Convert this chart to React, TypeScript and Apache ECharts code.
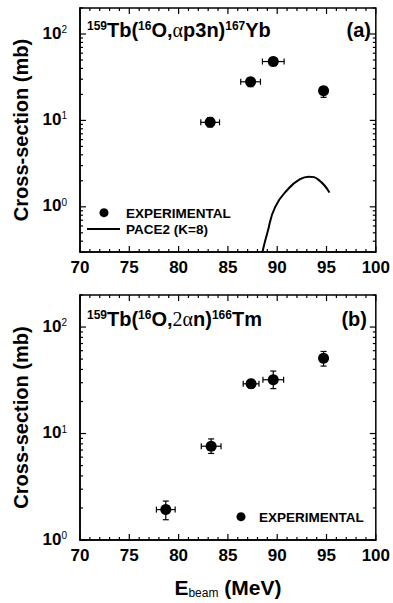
import React, { useEffect, useRef } from 'react';
import * as echarts from 'echarts';

// ---- data: panel (a) 159Tb(16O,αp3n)167Yb ----
const aEnergy = [83.2, 87.3, 89.6, 94.7];
const aSigma = [9.5, 28, 48, 22];
const aEnergyErr = [0.95, 1.0, 1.1, 0.4];
const aSigmaLow = [8.4, 24.6, 42.9, 18.5];
const aSigmaHigh = [10.8, 31, 52.6, 24.6];
const paceEnergy = [88.5, 89.0, 89.8, 91.2, 92.2, 93.2, 94.2, 95.3];
const paceSigma = [0.3, 0.5, 1.0, 1.65, 2.05, 2.23, 2.05, 1.46];

// ---- data: panel (b) 159Tb(16O,2αn)166Tm ----
const bEnergy = [78.7, 83.3, 87.35, 89.6, 94.7];
const bSigma = [1.93, 7.6, 29.3, 32, 51];
const bEnergyErr = [0.95, 1.0, 0.8, 1.05, 0.3];
const bSigmaLow = [1.55, 6.5, 26.8, 26.4, 43];
const bSigmaHigh = [2.32, 8.9, 32.2, 38.6, 59];

// ---- axes / ticks ----
const xMin = 70;
const xMax = 100;
const xInterval = 5;
const xMajorTicks = [70, 75, 80, 85, 90, 95, 100];
const xMinorTicks = [71, 72, 73, 74, 76, 77, 78, 79, 81, 82, 83, 84, 86, 87, 88, 89, 91, 92, 93, 94, 96, 97, 98, 99];
const yMajorTicks = [1, 10, 100];
const yMinorTicksA = [0.3, 0.4, 0.5, 0.6, 0.7, 0.8, 0.9, 2, 3, 4, 5, 6, 7, 8, 9, 20, 30, 40, 50, 60, 70, 80, 90, 200];
const yMinorTicksB = [2, 3, 4, 5, 6, 7, 8, 9, 20, 30, 40, 50, 60, 70, 80, 90, 200];
const yRangeA = [0.3, 200];
const yRangeB = [1, 200];

const FONT = 'Liberation Sans';
const BLACK = '#000';
const MAJOR_LEN = 6;
const MINOR_LEN = 3;

function xAxisDef(grid: number, name?: string) {
  return {
    type: 'value',
    gridIndex: grid,
    min: xMin,
    max: xMax,
    interval: xInterval,
    axisLine: { show: true, onZero: false, lineStyle: { color: BLACK, width: 1.5 } },
    axisTick: { show: false },
    splitLine: { show: false },
    axisLabel: { show: true, margin: 7, color: BLACK, fontSize: 17, fontWeight: 'bold', fontFamily: FONT },
    name: name,
    nameLocation: 'middle',
    nameGap: 37,
    nameTextStyle: {
      color: BLACK,
      fontFamily: FONT,
      rich: {
        m: { fontSize: 21, fontWeight: 'bold', lineHeight: 22, verticalAlign: 'top', fontFamily: FONT, color: BLACK },
        sub: { fontSize: 12, fontWeight: 'normal', lineHeight: 6, verticalAlign: 'bottom', fontFamily: FONT, color: BLACK },
      },
    },
  };
}

function yAxisDef(grid: number, range: number[]) {
  return {
    type: 'log',
    gridIndex: grid,
    min: range[0],
    max: range[1],
    axisLine: { show: true, onZero: false, lineStyle: { color: BLACK, width: 1.5 } },
    axisTick: { show: false },
    splitLine: { show: false },
    axisLabel: {
      show: true,
      margin: 13,
      formatter: (v: number) => {
        const e = Math.log10(v);
        return Math.abs(e - Math.round(e)) < 1e-6 ? `{b|10}{s|${Math.round(e)}}` : '';
      },
      rich: {
        b: { fontSize: 17, fontWeight: 'bold', lineHeight: 19, verticalAlign: 'top', fontFamily: FONT, color: BLACK },
        s: { fontSize: 10, fontWeight: 'normal', lineHeight: 12, verticalAlign: 'top', fontFamily: FONT, color: BLACK },
      },
    },
    name: 'Cross-section (mb)',
    nameLocation: 'middle',
    nameGap: 49,
    nameTextStyle: { color: BLACK, fontSize: 20, fontWeight: 'bold', fontFamily: FONT },
  };
}

// ticks on all four sides, placed through the axes' own scales
function xTickSeries(xAxisIndex: number, yAxisIndex: number, yRange: number[]) {
  const data = [
    ...xMajorTicks.map((v) => [v, yRange[0], yRange[1], MAJOR_LEN]),
    ...xMinorTicks.map((v) => [v, yRange[0], yRange[1], MINOR_LEN]),
  ];
  return {
    type: 'custom',
    xAxisIndex,
    yAxisIndex,
    z: 1,
    data,
    renderItem: (_params: any, api: any) => {
      const pb = api.coord([api.value(0), api.value(1)]);
      const pt = api.coord([api.value(0), api.value(2)]);
      const len = api.value(3);
      return {
        type: 'group',
        children: [
          { type: 'line', shape: { x1: pb[0], y1: pb[1], x2: pb[0], y2: pb[1] - len }, style: { stroke: BLACK, lineWidth: 1.2 } },
          { type: 'line', shape: { x1: pt[0], y1: pt[1], x2: pt[0], y2: pt[1] + len }, style: { stroke: BLACK, lineWidth: 1.2 } },
        ],
      };
    },
  };
}

function yTickSeries(xAxisIndex: number, yAxisIndex: number, minor: number[]) {
  const data = [
    ...yMajorTicks.map((v) => [xMin, v, xMax, MAJOR_LEN]),
    ...minor.map((v) => [xMin, v, xMax, MINOR_LEN]),
  ];
  return {
    type: 'custom',
    xAxisIndex,
    yAxisIndex,
    z: 1,
    data,
    renderItem: (_params: any, api: any) => {
      const pl = api.coord([api.value(0), api.value(1)]);
      const pr = api.coord([api.value(2), api.value(1)]);
      const len = api.value(3);
      return {
        type: 'group',
        children: [
          { type: 'line', shape: { x1: pl[0], y1: pl[1], x2: pl[0] + len, y2: pl[1] }, style: { stroke: BLACK, lineWidth: 1.2 } },
          { type: 'line', shape: { x1: pr[0], y1: pr[1], x2: pr[0] - len, y2: pr[1] }, style: { stroke: BLACK, lineWidth: 1.2 } },
        ],
      };
    },
  };
}

function errorBarSeries(
  xAxisIndex: number,
  yAxisIndex: number,
  xs: number[],
  ys: number[],
  xe: number[],
  lo: number[],
  hi: number[]
) {
  return {
    type: 'custom',
    xAxisIndex,
    yAxisIndex,
    z: 1,
    data: xs.map((x, i) => [x, ys[i], xe[i], lo[i], hi[i]]),
    renderItem: (_params: any, api: any) => {
      const x = api.value(0);
      const y = api.value(1);
      const e = api.value(2);
      const l = api.value(3);
      const h = api.value(4);
      const pL = api.coord([x - e, y]);
      const pR = api.coord([x + e, y]);
      const pT = api.coord([x, h]);
      const pB = api.coord([x, l]);
      const c = 3;
      const ln = (x1: number, y1: number, x2: number, y2: number) => ({
        type: 'line',
        shape: { x1, y1, x2, y2 },
        style: { stroke: BLACK, lineWidth: 1.2 },
      });
      return {
        type: 'group',
        children: [
          ln(pL[0], pL[1], pR[0], pR[1]),
          ln(pL[0], pL[1] - c, pL[0], pL[1] + c),
          ln(pR[0], pR[1] - c, pR[0], pR[1] + c),
          ln(pT[0], pT[1], pB[0], pB[1]),
          ln(pT[0] - c, pT[1], pT[0] + c, pT[1]),
          ln(pB[0] - c, pB[1], pB[0] + c, pB[1]),
        ],
      };
    },
  };
}

const titleRich = {
  m: { fontSize: 20, fontWeight: 'bold', lineHeight: 22, verticalAlign: 'top', fontFamily: FONT, fill: BLACK },
  s: { fontSize: 12, fontWeight: 'bold', lineHeight: 14, verticalAlign: 'top', fontFamily: FONT, fill: BLACK },
  g: { fontSize: 20, fontWeight: 'normal', lineHeight: 22, verticalAlign: 'top', fontFamily: 'Liberation Serif', fill: BLACK },
};

const legendFont = { fontSize: 13.5, fontWeight: 'bold', fontFamily: FONT, fill: BLACK };

export default function App() {
  const ref = useRef<HTMLDivElement>(null);

  useEffect(() => {
    if (!ref.current) return;
    const chart = echarts.init(ref.current, undefined, { renderer: 'svg' });
    const gridBase = { show: true, borderColor: BLACK, borderWidth: 1.5 };
    const option: any = {
      animation: false,
      backgroundColor: '#fff',
      grid: [
        { ...gridBase, left: 80, right: 15, top: 8, height: 244 },
        { ...gridBase, left: 80, right: 15, top: 295, height: 245 },
      ],
      xAxis: [xAxisDef(0), xAxisDef(1, '{m|E}{sub|beam}{m| (MeV)}')],
      yAxis: [yAxisDef(0, yRangeA), yAxisDef(1, yRangeB)],
      series: [
        xTickSeries(0, 0, yRangeA),
        yTickSeries(0, 0, yMinorTicksA),
        errorBarSeries(0, 0, aEnergy, aSigma, aEnergyErr, aSigmaLow, aSigmaHigh),
        {
          name: 'EXPERIMENTAL',
          type: 'scatter',
          xAxisIndex: 0,
          yAxisIndex: 0,
          symbolSize: 11,
          itemStyle: { color: BLACK, opacity: 1 },
          z: 3,
          data: aEnergy.map((x, i) => [x, aSigma[i]]),
        },
        {
          name: 'PACE2 (K=8)',
          type: 'line',
          xAxisIndex: 0,
          yAxisIndex: 0,
          smooth: true,
          symbol: 'none',
          clip: true,
          itemStyle: { color: BLACK },
          lineStyle: { color: BLACK, width: 2 },
          z: 2,
          data: paceEnergy.map((x, i) => [x, paceSigma[i]]),
        },
        xTickSeries(1, 1, yRangeB),
        yTickSeries(1, 1, yMinorTicksB),
        errorBarSeries(1, 1, bEnergy, bSigma, bEnergyErr, bSigmaLow, bSigmaHigh),
        {
          name: 'EXPERIMENTAL',
          type: 'scatter',
          xAxisIndex: 1,
          yAxisIndex: 1,
          symbolSize: 11,
          itemStyle: { color: BLACK, opacity: 1 },
          z: 3,
          data: bEnergy.map((x, i) => [x, bSigma[i]]),
        },
      ],
    };
    chart.setOption(option);
    chart.setOption({
      graphic: [
        {
          type: 'text',
          left: 87,
          top: 20,
          style: {
            text: '{s|159}{m|Tb(}{s|16}{m|O,}{g|α}{m|p3n)}{s|167}{m|Yb}',
            rich: titleRich,
          },
        },
        { type: 'text', right: 22, top: 20, style: { text: '{m|(a)}', rich: titleRich } },
        {
          type: 'text',
          left: 87,
          top: 309,
          style: {
            text: '{s|159}{m|Tb(}{s|16}{m|O,}{g|2α}{m|n)}{s|166}{m|Tm}',
            rich: titleRich,
          },
        },
        { type: 'text', right: 26, top: 309, style: { text: '{m|(b)}', rich: titleRich } },
        { type: 'circle', shape: { cx: 104, cy: 212.7, r: 4.5 }, style: { fill: BLACK } },
        { type: 'text', x: 126, y: 213, style: { ...legendFont, text: 'EXPERIMENTAL', verticalAlign: 'middle' } },
        { type: 'line', shape: { x1: 87, y1: 229, x2: 120, y2: 229 }, style: { stroke: BLACK, lineWidth: 2 } },
        { type: 'text', x: 126, y: 229, style: { ...legendFont, text: 'PACE2 (K=8)', verticalAlign: 'middle' } },
        { type: 'circle', shape: { cx: 241, cy: 516.7, r: 4.5 }, style: { fill: BLACK } },
        { type: 'text', x: 259, y: 517, style: { ...legendFont, text: 'EXPERIMENTAL', verticalAlign: 'middle' } },
      ],
    });
    return () => {
      chart.dispose();
    };
  }, []);

  return (
    <div
      ref={ref}
      style={{ position: 'fixed', left: 0, top: 0, width: 393, height: 603, background: '#fff' }}
    />
  );
}
